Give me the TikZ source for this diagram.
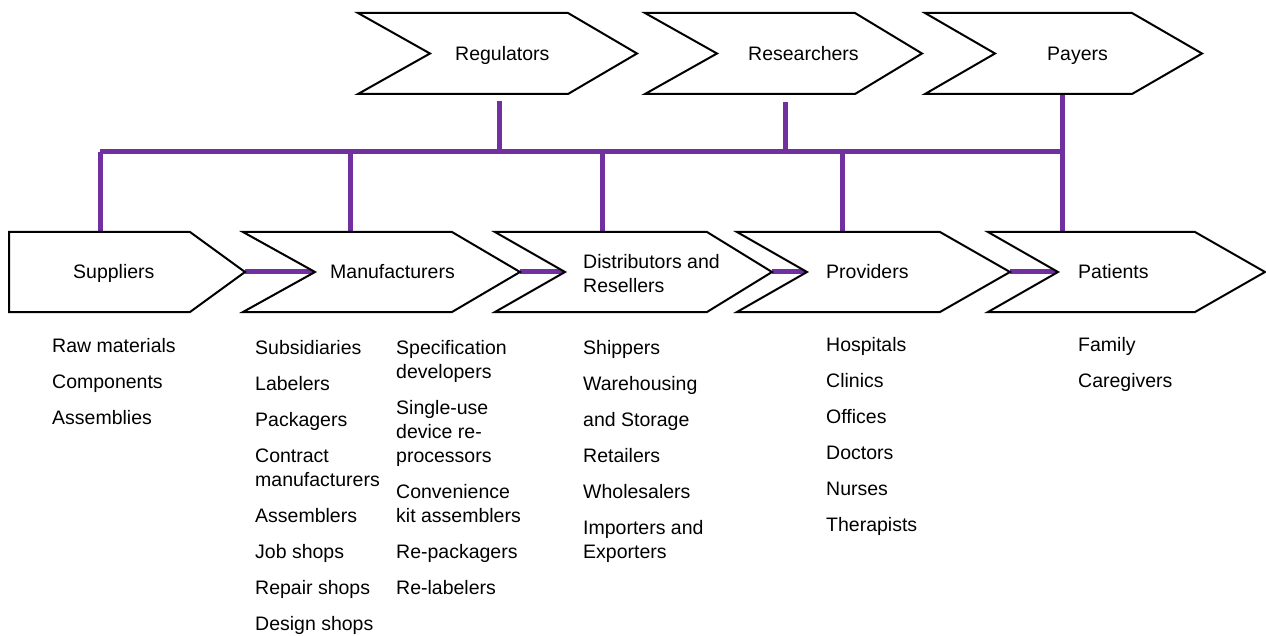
\documentclass[tikz,border=0pt]{standalone}
\usepackage{fontspec}
\setmainfont{Liberation Sans}
\definecolor{linkpurple}{HTML}{7030A0}
\newcommand\chevshape[6]{\path[shp] (#1,#5) -- (#3,#5) -- (#4,{(#5+#6)/2}) -- (#3,#6) -- (#1,#6) -- (#2,{(#5+#6)/2}) -- cycle;}
\begin{document}
\begin{tikzpicture}[x=1pt,y=-1pt,
  shp/.style={draw=black,line width=2pt,fill=white,line join=miter},
  link/.style={draw=linkpurple,line width=5pt},
  lbl/.style={inner sep=0pt,font=\fontsize{19.5}{24}\selectfont,anchor=base west},
  lst/.style={inner sep=0pt,font=\fontsize{19.5}{24}\selectfont,anchor=north west,align=left}]
\useasboundingbox[fill=white] (0,0) rectangle (1266,636);

% connector coordinates
\coordinate (regB) at (499,101);
\coordinate (resB) at (785,102);
\coordinate (payB) at (1062,93);
\coordinate (busL) at (100,152);
\coordinate (busR) at (1062,152);
\coordinate (regJ) at (499,152);
\coordinate (resJ) at (785,152);
\coordinate (manJ) at (350,152);
\coordinate (disJ) at (602,152);
\coordinate (proJ) at (842,152);
\coordinate (supT) at (100,232);
\coordinate (manT) at (350,232);
\coordinate (disT) at (602,232);
\coordinate (proT) at (842,232);
\coordinate (patT) at (1062,232);
\coordinate (supTip) at (245,272);
\coordinate (manNotch) at (315,272);
\coordinate (manTip) at (520,272);
\coordinate (disNotch) at (565,272);
\coordinate (disTip) at (772,272);
\coordinate (proNotch) at (807,272);
\coordinate (proTip) at (1010,272);
\coordinate (patNotch) at (1058,272);

% purple connectors
\draw[link] (regB) -- (regJ);
\draw[link] (resB) -- (resJ);
\draw[link] (payB) -- (patT);
\draw[link] (busL) -- (busR);
\draw[link] (busL) -- (supT);
\draw[link] (manJ) -- (manT);
\draw[link] (disJ) -- (disT);
\draw[link] (proJ) -- (proT);
\draw[link] (supTip) -- (manNotch);
\draw[link] (manTip) -- (disNotch);
\draw[link] (disTip) -- (proNotch);
\draw[link] (proTip) -- (patNotch);

% top row shapes
\chevshape{358}{430}{568}{637}{13}{94}
\chevshape{645}{717}{855}{922}{13}{94}
\chevshape{925}{995}{1132}{1202}{13}{94}
% bottom row shapes
\chevshape{9}{9}{190}{245}{232}{312}
\chevshape{243}{315}{452}{520}{232}{312}
\chevshape{495}{565}{707}{772}{232}{312}
\chevshape{737}{807}{940}{1010}{232}{312}
\chevshape{988}{1058}{1195}{1265}{232}{312}

% labels
\node[lbl] (reg) at (455,61) {Regulators};
\node[lbl] (res) at (748,61) {Researchers};
\node[lbl] (pay) at (1047,61) {Payers};
\node[lbl] (sup) at (73,279) {Suppliers};
\node[lbl] (man) at (330,279) {Manufacturers};
\node[lst] (dis) at (583,254) {Distributors and\\Resellers};
\node[lbl] (pro) at (826,279) {Providers};
\node[lbl] (pat) at (1078,279) {Patients};

% lists
\node[lst] (supL) at (52,338) {Raw materials\\[12pt]Components\\[12pt]Assemblies};
\node[lst] (manL1) at (255,340) {Subsidiaries\\[12pt]Labelers\\[12pt]Packagers\\[12pt]Contract\\manufacturers\\[12pt]Assemblers\\[12pt]Job shops\\[12pt]Repair shops\\[12pt]Design shops};
\node[lst] (manL2) at (396,340) {Specification\\developers\\[12pt]Single-use\\device re-\\processors\\[12pt]Convenience\\kit assemblers\\[12pt]Re-packagers\\[12pt]Re-labelers};
\node[lst] (disL) at (583,340) {Shippers\\[12pt]Warehousing\\[12pt]and Storage\\[12pt]Retailers\\[12pt]Wholesalers\\[12pt]Importers and\\Exporters};
\node[lst] (proL) at (826,337) {Hospitals\\[12pt]Clinics\\[12pt]Offices\\[12pt]Doctors\\[12pt]Nurses\\[12pt]Therapists};
\node[lst] (patL) at (1078,337) {Family\\[12pt]Caregivers};
\end{tikzpicture}
\end{document}
